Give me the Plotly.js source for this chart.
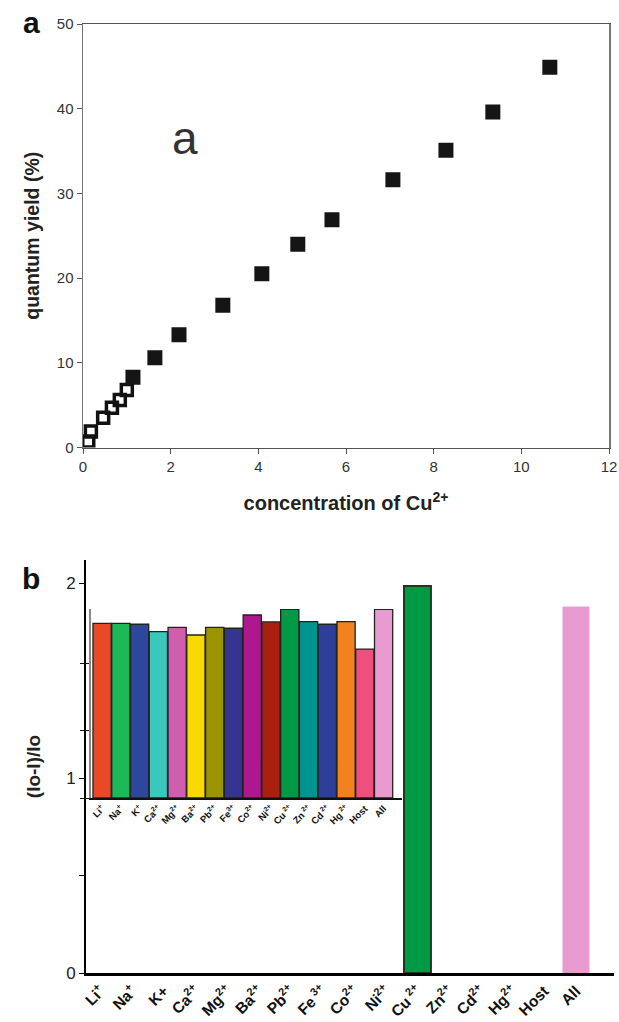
<!DOCTYPE html>
<html>
<head>
<meta charset="utf-8">
<script src="https://cdn.plot.ly/plotly-3.0.1.min.js"></script>
<style>html,body{margin:0;padding:0;background:#fff;}#chart{width:619px;height:1022px;}</style>
</head>
<body>
<div id="chart"></div>
<script>
// ---- Panel a data ----
const concFilled = [1.14, 1.64, 2.19, 3.19, 4.08, 4.90, 5.68, 7.07, 8.28, 9.35, 10.65];
const yieldFilled = [8.3, 10.6, 13.3, 16.8, 20.5, 24.0, 26.9, 31.6, 35.1, 39.6, 44.9];
const concOpen = [0.12, 0.18, 0.46, 0.66, 0.84, 1.00];
const yieldOpen = [0.7, 1.9, 3.5, 4.7, 5.6, 6.8];

// ---- Panel b data ----
const ions = ['Li<sup>+</sup>','Na<sup>+</sup>','K+','Ca<sup>2+</sup>','Mg<sup>2+</sup>','Ba<sup>2+</sup>',
  'Pb<sup>2+</sup>','Fe<sup> 3+</sup>','Co<sup>2+</sup>','Ni<sup>2+</sup>','Cu<sup> 2+</sup>',
  'Zn<sup>2+</sup>','Cd<sup>2+</sup>','Hg<sup>2+</sup>','Host','All'];
const mainValues = [0,0,0,0,0,0,0,0,0,0,1.985,0,0,0,0,1.88];
const mainColors = ['#fff','#fff','#fff','#fff','#fff','#fff','#fff','#fff','#fff','#fff','#009A44','#fff','#fff','#fff','#fff','#E89BCF'];
const mainLineW = [0,0,0,0,0,0,0,0,0,0,2,0,0,0,0,0];

const insetLabels = ['Li<sup>+</sup>','Na<sup>+</sup>','K<sup>+</sup>','Ca<sup>2+</sup>','Mg<sup>2+</sup>','Ba<sup>2+</sup>',
  'Pb<sup>2+</sup>','Fe<sup>3+</sup>','Co<sup>2+</sup>','Ni<sup>2+</sup>','Cu<sup> 2+</sup>','Zn<sup> 2+</sup>',
  'Cd<sup> 2+</sup>','Hg<sup> 2+</sup>','Host','All'];
const insetValues = [1.833,1.833,1.823,1.745,1.791,1.710,1.791,1.781,1.920,1.847,1.980,1.850,1.823,1.850,1.563,1.980];
const insetColors = ['#E84A28','#1DB858','#2C479C','#3CC7BD','#CF5FAE','#F8DA00','#9B9300','#35358F',
  '#AF178E','#A9200F','#009A44','#009491','#2E3F9A','#F28120','#EF4F7D','#E89BCF'];

const F = 'Liberation Sans, Arial, sans-serif';

const traces = [
  {type:'scatter', mode:'markers', x: concOpen, y: yieldOpen, xaxis:'x', yaxis:'y',
   marker:{symbol:'square-open', size:11, color:'#111', line:{width:3.5, color:'#111'}}, hoverinfo:'skip'},
  {type:'scatter', mode:'markers', x: concFilled, y: yieldFilled, xaxis:'x', yaxis:'y',
   marker:{symbol:'square', size:15, color:'#151515', line:{width:0}}},
  {type:'bar', x: ions, y: mainValues, xaxis:'x2', yaxis:'y2', width:0.85,
   marker:{color: mainColors, line:{width: mainLineW, color:'#1B3A1E'}}},
  {type:'bar', x: insetLabels, y: insetValues, xaxis:'x3', yaxis:'y3', width:0.97,
   marker:{color: insetColors, line:{width:1.3, color:'#222'}}}
];

const layout = {
  width:619, height:1022, showlegend:false,
  margin:{l:0,r:0,t:0,b:0},
  paper_bgcolor:'#fff', plot_bgcolor:'rgba(0,0,0,0)',
  font:{family:F, color:'#222'},
  xaxis:{domain:[83/619, 609/619], anchor:'y', range:[0,12], dtick:2, showgrid:false, zeroline:false,
    showline:true, linecolor:'#555', linewidth:1.5, mirror:true, ticks:'outside', ticklen:5, tickcolor:'#555',
    tickfont:{size:15, color:'#333', family:F},
    title:{text:'<b>concentration of Cu<sup>2+</sup></b>', font:{size:20, color:'#222', family:F}, standoff:22}},
  yaxis:{domain:[1-447.5/1022, 1-24/1022], anchor:'x', range:[0,50], dtick:10, showgrid:false, zeroline:false,
    showline:true, linecolor:'#777', linewidth:1.5, mirror:true, ticks:'outside', ticklen:5, tickcolor:'#555',
    tickfont:{size:15, color:'#333', family:F},
    title:{text:'<b>quantum yield (%)</b>', font:{size:19.5, color:'#222', family:F}, standoff:12}},
  xaxis2:{domain:[86/619, 614/619], anchor:'y2', type:'category', range:[-0.457, 16.2], showgrid:false,
    zeroline:false, showline:true, linecolor:'#000', linewidth:3, ticks:'', tickangle:-45,
    tickfont:{size:15.5, color:'#111', family:F, weight:'bold'}},
  yaxis2:{domain:[1-973/1022, 1-560/1022], anchor:'x2', range:[0,2.118], showgrid:false, zeroline:false,
    showline:true, linecolor:'#000', linewidth:2, ticks:'outside', ticklen:5, tickcolor:'#000',
    tickvals:[0,1,2],
    minor:{tickvals:[0.5], ticks:'outside', ticklen:5, tickcolor:'#000'},
    tickfont:{size:17, color:'#222', family:F},
    title:{text:'<b>(Io-I)/Io</b>', font:{size:19, color:'#222', family:F}, standoff:20}},
  xaxis3:{domain:[90.5/619, 402/619], anchor:'y3', type:'category', range:[-0.617, 15.98], showgrid:false,
    zeroline:false, showline:true, linecolor:'#111', linewidth:1.5, ticks:'', tickangle:-45,
    tickfont:{size:9.5, color:'#111', family:F, weight:'bold'}},
  yaxis3:{domain:[1-798/1022, 1-609/1022], anchor:'x3', range:[0,1.983], showgrid:false, zeroline:false,
    showline:true, linecolor:'#888', linewidth:1.5, ticks:'outside', ticklen:9, tickcolor:'#111',
    dtick:0.708, showticklabels:false},
  bargap:0,
  annotations:[
    {text:'<b>a</b>', xref:'paper', yref:'paper', x:31/619, y:1-22/1022, xanchor:'center', yanchor:'middle',
     showarrow:false, font:{size:30, color:'#111', family:F}},
    {text:'<b>b</b>', xref:'paper', yref:'paper', x:31/619, y:1-578/1022, xanchor:'center', yanchor:'middle',
     showarrow:false, font:{size:30, color:'#111', family:F}},
    {text:'a', xref:'x', yref:'y', x:2.33, y:36.5, xanchor:'center', yanchor:'middle',
     showarrow:false, font:{size:46, color:'#333', family:F}}
  ]
};

Plotly.newPlot('chart', traces, layout, {displayModeBar:false, staticPlot:true});
</script>
</body>
</html>
